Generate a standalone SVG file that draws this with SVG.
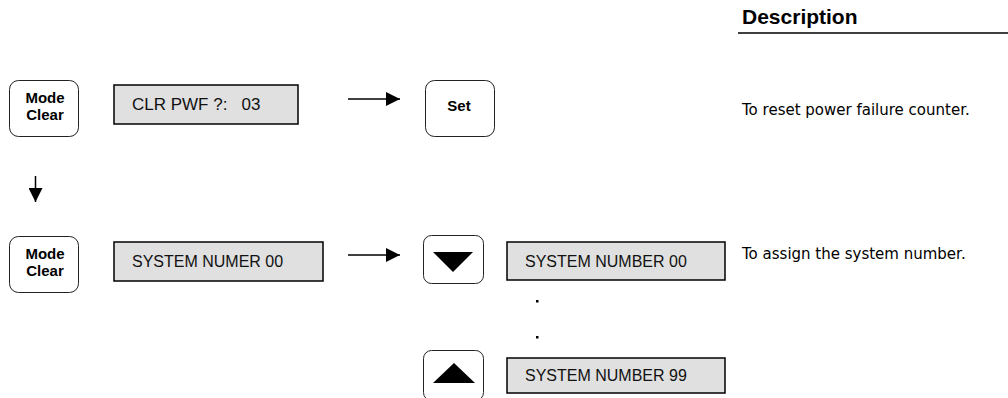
<svg xmlns="http://www.w3.org/2000/svg" width="1008" height="398" viewBox="0 0 1008 398">
<style>
.btn{fill:#fff;stroke:#222;stroke-width:1}
.lcd{fill:#e0e0e0;stroke:#000;stroke-width:1.5}
.bt{font-family:"Liberation Sans",Arial,sans-serif;font-weight:bold;font-size:15px;fill:#000;text-anchor:middle}
.lt{font-family:"Liberation Sans",Arial,sans-serif;font-size:16px;fill:#111}
.desc{font-family:"DejaVu Sans",Verdana,sans-serif;font-size:15px;fill:#000}
.hd{font-family:"Liberation Sans",Arial,sans-serif;font-weight:bold;font-size:21px;fill:#000}
.ln{stroke:#000;stroke-width:1.5;fill:none}
.tri{fill:#000}
</style>
<defs>
<marker id="ah" viewBox="0 0 10 10" refX="10" refY="5" markerWidth="17" markerHeight="14" markerUnits="userSpaceOnUse" orient="auto">
<path d="M0,0 L10,5 L0,10 z" fill="#000"/>
</marker>
</defs>
<g id="header">
<text class="hd" x="742" y="24">Description</text>
<line x1="738" y1="33" x2="1008" y2="33" stroke="#000" stroke-width="1.5"/>
</g>
<g id="modeclear1">
<rect class="btn" x="9.5" y="80.5" width="69" height="56" rx="9"/>
<text class="bt" x="45" y="103">Mode</text>
<text class="bt" x="45" y="120">Clear</text>
</g>
<g id="lcd-clr">
<rect class="lcd" x="114" y="85" width="184" height="39"/>
<text class="lt" x="132" y="110" xml:space="preserve" style="font-size:17px">CLR PWF ?:   03</text>
</g>
<g id="set">
<rect class="btn" x="425.5" y="80.5" width="69" height="56" rx="9"/>
<text class="bt" x="459" y="111">Set</text>
</g>
<g id="desc1">
<text class="desc" x="742" y="115">To reset power failure counter.</text>
</g>
<g id="modeclear2">
<rect class="btn" x="9.5" y="236.5" width="69" height="56" rx="9"/>
<text class="bt" x="45" y="259">Mode</text>
<text class="bt" x="45" y="276">Clear</text>
</g>
<g id="lcd-numer">
<rect class="lcd" x="114" y="242" width="209" height="39"/>
<text class="lt" x="132" y="267">SYSTEM NUMER 00</text>
</g>
<g id="down">
<rect class="btn" x="423.5" y="235.5" width="60" height="48" rx="8"/>
<path class="tri" d="M433,252 L473,252 L453,272 z"/>
</g>
<g id="lcd-00">
<rect class="lcd" x="507" y="242" width="218" height="38"/>
<text class="lt" x="525" y="267">SYSTEM NUMBER 00</text>
</g>
<g id="desc2">
<text class="desc" x="742" y="259">To assign the system number.</text>
</g>
<g id="dots">
<rect x="536" y="300" width="2.5" height="2.5" fill="#000"/>
<rect x="536" y="336" width="2.5" height="2.5" fill="#000"/>
</g>
<g id="up">
<rect class="btn" x="423.5" y="350.5" width="60" height="50" rx="8"/>
<path class="tri" d="M433,383 L475,383 L454,363 z"/>
</g>
<g id="lcd-99">
<rect class="lcd" x="507" y="358" width="218" height="35"/>
<text class="lt" x="525" y="381">SYSTEM NUMBER 99</text>
</g>
<g id="connectors">
<line class="ln" x1="348" y1="99" x2="400" y2="99" marker-end="url(#ah)"/>
<line class="ln" x1="35.5" y1="176" x2="35.5" y2="202" marker-end="url(#ah)"/>
<line class="ln" x1="348" y1="255" x2="400" y2="255" marker-end="url(#ah)"/>
</g>
</svg>
